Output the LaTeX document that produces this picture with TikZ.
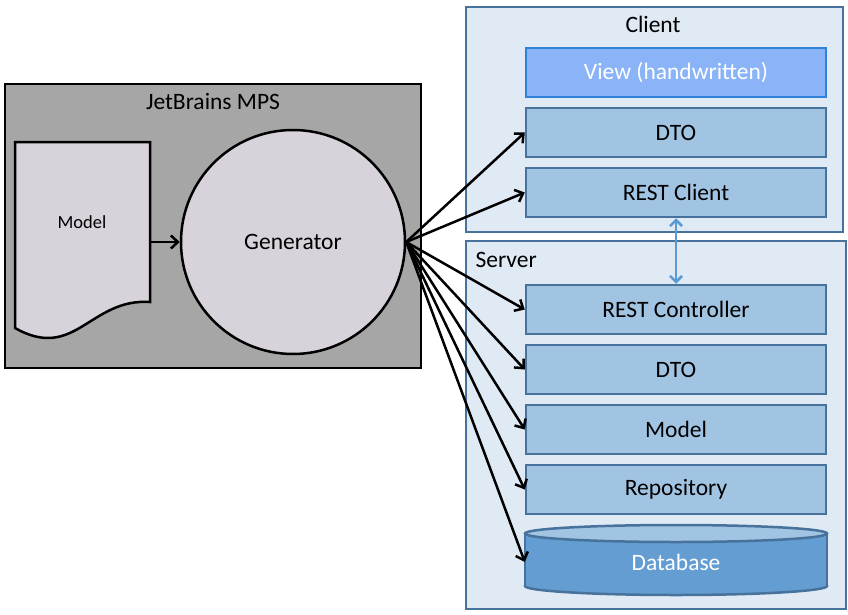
\documentclass[tikz,border=0pt]{standalone}
\usepackage{fontspec}
\setmainfont{Carlito}
\usetikzlibrary{arrows.meta}
\definecolor{mpsgray}{RGB}{166,166,166}
\definecolor{gencolor}{RGB}{216,211,218}
\definecolor{tierfill}{RGB}{224,234,245}
\definecolor{tierline}{RGB}{70,114,156}
\definecolor{layerfill}{RGB}{162,196,227}
\definecolor{viewfill}{RGB}{138,180,247}
\definecolor{viewline}{RGB}{47,130,216}
\definecolor{dbfill}{RGB}{99,157,210}
\definecolor{linkblue}{RGB}{91,155,213}
\newcommand{\labelfont}{\fontsize{23.5}{28}\selectfont}
\newcommand{\smalllabelfont}{\fontsize{18.5}{22}\selectfont}

\begin{document}
\begin{tikzpicture}[x=1pt, y=-1pt,
    layer/.style={draw=tierline, fill=layerfill, line width=2.5pt, minimum width=300pt, minimum height=49pt, inner sep=0pt, font=\labelfont},
    genarrow/.style={line width=2.5pt, -{Straight Barb[length=7pt, width=13pt]}}]
    \useasboundingbox (0,0) rectangle (848,615);
    % JetBrains MPS
    \draw[line width=2.5pt, fill=mpsgray] (5,84) rectangle (421,368);
    \node[font=\labelfont] (mpstitle) at (213,102) {JetBrains MPS};
    \draw[line width=2.5pt, fill=gencolor] (15,328) -- (15,142) -- (150,142) -- (150,302) .. controls (90,298) and (75,362) .. (15,328) -- cycle;
    \node[font=\smalllabelfont] (modeltxt) at (82,222) {Model};
    \coordinate (docedge) at (150,242);
    \node[circle, draw, line width=2.5pt, fill=gencolor, minimum size=224pt, font=\labelfont] (Generator) at (293,242) {Generator};
    \draw[genarrow] (docedge) -- (Generator.west);
    % Client
    \draw[draw=tierline, fill=tierfill, line width=2pt] (466,7) rectangle (843,232);
    \node[font=\labelfont] (clienttitle) at (653,24) {Client};
    \node[layer, fill=viewfill, draw=viewline, text=white] (view) at (676,72.5) {View (handwritten)};
    \node[layer] (cdto) at (676,132.5) {DTO};
    \node[layer] (rclient) at (676,192.5) {REST Client};
    % Server
    \draw[draw=tierline, fill=tierfill, line width=2pt] (466,241) rectangle (846,609);
    \node[font=\labelfont, anchor=west] (servertitle) at (472,260) {Server};
    \node[layer] (rctrl) at (676,309.5) {REST Controller};
    \node[layer] (sdto) at (676,369.5) {DTO};
    \node[layer] (smodel) at (676,429.5) {Model};
    \node[layer] (repo) at (676,489.5) {Repository};
    % database cylinder
    \filldraw[fill=dbfill, draw=tierline, line width=2.5pt] (676,586) ellipse [x radius=151pt, y radius=9pt];
    \fill[dbfill] (525,533.5) rectangle (827,586);
    \draw[tierline, line width=2.5pt] (525,533.5) -- (525,586) (827,533.5) -- (827,586);
    \filldraw[fill=layerfill, draw=tierline, line width=2.5pt] (676,533.5) ellipse [x radius=151pt, y radius=8.5pt];
    \node[minimum width=302pt, minimum height=52pt, inner sep=0pt, text=white, font=\labelfont] (Database) at (676,562) {Database};
    \draw[linkblue, line width=2.5pt, {Straight Barb[length=6pt, width=12pt]}-{Straight Barb[length=6pt, width=12pt]}] (rclient.south) -- (rctrl.north);
    \foreach \t in {cdto, rclient, rctrl, sdto, smodel, repo, Database}
        \draw[genarrow] (Generator.east) -- (\t.west);
\end{tikzpicture}
\end{document}
